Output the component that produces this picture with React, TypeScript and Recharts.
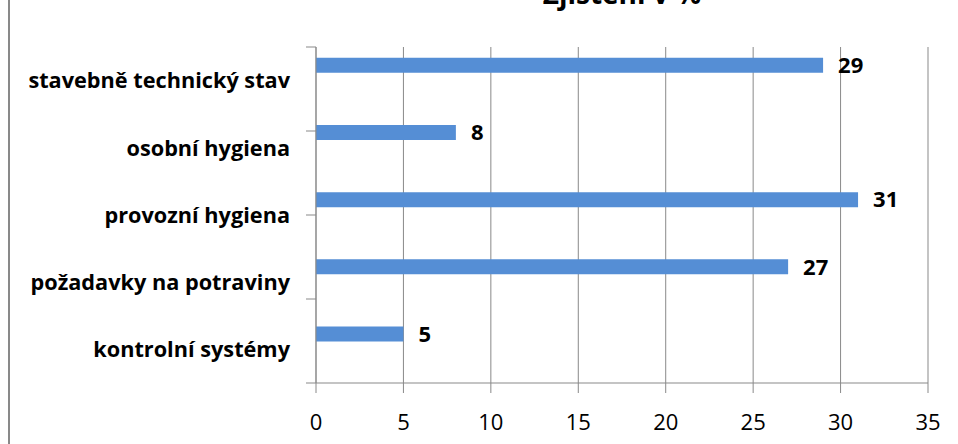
import { BarChart, Bar, XAxis, YAxis, CartesianGrid, LabelList } from "recharts";

const categories = [
    "stavebně technický stav",
    "osobní hygiena",
    "provozní hygiena",
    "požadavky na potraviny",
    "kontrolní systémy",
];
const values = [29, 8, 31, 27, 5];
const xTicks = [0, 5, 10, 15, 20, 25, 30, 35];
const edgeTicks = [0, 1, 2, 3, 4, 5];
const title = "Zjištění v %";

const data = categories.map((name, i) => ({ name, value: values[i], empty: null }));

const font = "'Open Sans', sans-serif";
const gray = "#898989";

export default function App() {
    return (
        <div style={{ position: "absolute", left: 0, top: 0, width: 958, height: 444, overflow: "hidden", background: "#fff", fontFamily: font }}>
            <div style={{ position: "absolute", left: 8, top: 0, width: 2, height: 444, background: gray }} />
            <div
                style={{
                    position: "absolute",
                    left: 316,
                    width: 612,
                    top: -24,
                    textAlign: "center",
                    fontSize: 28,
                    fontWeight: 700,
                    lineHeight: "34px",
                    color: "#000",
                }}
            >
                {title}
            </div>
            <BarChart
                width={958}
                height={444}
                data={data}
                layout="vertical"
                margin={{ top: 47, right: 30, left: 0, bottom: 0 }}
                barCategoryGap="16%"
                barGap={16}
            >
                <CartesianGrid horizontal={false} yAxisId={1} stroke={gray} strokeWidth={1} />
                <XAxis
                    type="number"
                    domain={[0, 35]}
                    ticks={xTicks}
                    interval={0}
                    height={61}
                    axisLine={{ stroke: gray }}
                    tickLine={{ stroke: gray }}
                    tickSize={10}
                    tickMargin={21}
                    tick={{ fill: "#000", fontSize: 22, fontFamily: font }}
                />
                <YAxis
                    yAxisId={0}
                    type="number"
                    domain={[0, 5]}
                    ticks={edgeTicks}
                    interval={0}
                    width={10}
                    axisLine={{ stroke: gray }}
                    tickLine={{ stroke: gray }}
                    tickSize={10}
                    tick={() => <g />}
                />
                <YAxis
                    yAxisId={1}
                    type="category"
                    dataKey="name"
                    width={306}
                    axisLine={false}
                    tickLine={false}
                    tickSize={0}
                    tickMargin={16}
                    interval={0}
                    tick={{ fill: "#000", fontSize: 21.7, fontWeight: 700, fontFamily: font }}
                />
                <Bar dataKey="value" yAxisId={1} fill="#558ED5" isAnimationActive={false}>
                    <LabelList
                        dataKey="value"
                        position="right"
                        offset={15}
                        style={{ fill: "#000", fontSize: 22, fontWeight: 700, fontFamily: font }}
                    />
                </Bar>
                <Bar dataKey="empty" yAxisId={1} fill="#558ED5" isAnimationActive={false} />
            </BarChart>
        </div>
    );
}
